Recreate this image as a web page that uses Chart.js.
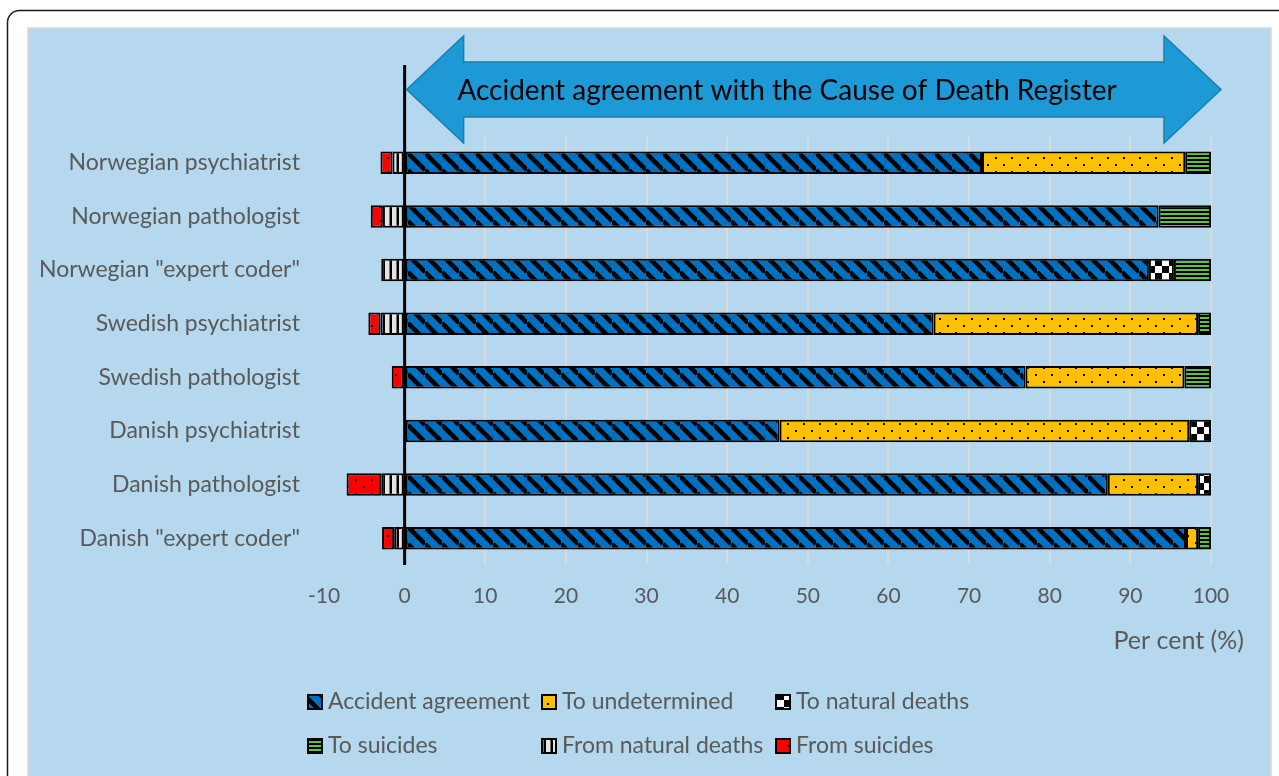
<!DOCTYPE html>
<html>
<head>
<meta charset="utf-8">
<script src="https://cdn.jsdelivr.net/npm/chart.js@4.4.0/dist/chart.umd.min.js"></script>
<style>
  html, body { margin: 0; padding: 0; background: #ffffff; }
  #wrap { width: 1279px; height: 776px; }
</style>
</head>
<body>
<div id="wrap"><canvas id="chart" width="1279" height="776"></canvas></div>
<script>
// categories (top to bottom)
var categories = [
    "Norwegian psychiatrist",
    "Norwegian pathologist",
    'Norwegian "expert coder"',
    "Swedish psychiatrist",
    "Swedish pathologist",
    "Danish psychiatrist",
    "Danish pathologist",
    'Danish "expert coder"'
];

// per cent
var accidentAgreement = [71.6, 93.5, 92.3, 65.6, 77.0, 46.5, 87.2, 96.9];
var toUndetermined    = [25.2, 0, 0, 32.8, 19.7, 50.8, 11.2, 1.5];
var toNaturalDeaths   = [0, 0, 3.1, 0, 0, 2.7, 1.6, 0];
var toSuicides        = [3.2, 6.5, 4.6, 1.6, 3.3, 0, 0, 1.6];
var fromNaturalDeaths = [-1.5, -2.7, -2.9, -3.0, 0, 0, -2.9, -1.3];
var fromSuicides      = [-1.5, -1.5, 0, -1.5, -1.6, 0, -4.3, -1.5];

var seriesNames = [
    "Accident agreement",
    "To undetermined",
    "To natural deaths",
    "To suicides",
    "From natural deaths",
    "From suicides"
];

var xMin = -10, xMax = 100, xStep = 10;
var arrowText = "Accident agreement with the Cause of Death Register";
var axisTitle = "Per cent (%)";

var FONT = "Lato, 'Open Sans', sans-serif";
var GREY = "#595959";

// ---- fill patterns ----
function makePattern(w, h, draw) {
    var c = document.createElement("canvas");
    c.width = w;
    c.height = h;
    var g = c.getContext("2d");
    draw(g, w, h);
    return g.createPattern(c, "repeat");
}

var patDiagonal = makePattern(17, 17, function (g, w, h) {
    g.fillStyle = "#0070C0";
    g.fillRect(0, 0, w, h);
    g.strokeStyle = "#000000";
    g.lineWidth = 4.5;
    [-w, 0, w].forEach(function (c) {
        g.beginPath();
        g.moveTo(0, c);
        g.lineTo(w, c + h);
        g.stroke();
    });
});

function dots(color) {
    return makePattern(16, 14, function (g, w, h) {
        g.fillStyle = color;
        g.fillRect(0, 0, w, h);
        g.fillStyle = "#000000";
        g.fillRect(3, 3, 2, 2);
        g.fillRect(11, 10, 2, 2);
    });
}

var patYellow = dots("#FFC000");
var patRed = dots("#FF0000");

var patChecker = makePattern(14, 14, function (g, w, h) {
    g.fillStyle = "#ffffff";
    g.fillRect(0, 0, w, h);
    g.fillStyle = "#000000";
    g.fillRect(0, 0, 7, 7);
    g.fillRect(7, 7, 7, 7);
});

var patGreen = makePattern(4, 4, function (g, w, h) {
    g.fillStyle = "#000000";
    g.fillRect(0, 0, w, h);
    g.fillStyle = "#62C23F";
    g.fillRect(0, 1, w, 2);
});

var patVertical = makePattern(7, 4, function (g, w, h) {
    g.fillStyle = "#000000";
    g.fillRect(0, 0, w, h);
    g.fillStyle = "#E4E4E4";
    g.fillRect(0, 0, 4.5, h);
});

var patterns = [patDiagonal, patYellow, patChecker, patGreen, patVertical, patRed];
var seriesData = [accidentAgreement, toUndetermined, toNaturalDeaths, toSuicides, fromNaturalDeaths, fromSuicides];

var datasets = seriesNames.map(function (name, i) {
    return {
        label: name,
        data: seriesData[i],
        backgroundColor: patterns[i],
        borderColor: "#000000",
        borderWidth: 2,
        borderSkipped: false,
        categoryPercentage: 1,
        barPercentage: 0.42
    };
});

// ---- decorations: panel, arrow, zero line, axis title, legend ----
var decorations = {
    id: "decorations",
    beforeDraw: function (chart) {
        var ctx = chart.ctx;
        ctx.save();
        ctx.fillStyle = "#ffffff";
        ctx.fillRect(0, 0, chart.width, chart.height);
        // outer rounded frame
        ctx.strokeStyle = "#1a1a1a";
        ctx.lineWidth = 1.5;
        ctx.beginPath();
        ctx.roundRect(7.5, 10.5, 1400, 900, 12);
        ctx.stroke();
        // blue panel
        ctx.fillStyle = "#B5D8EE";
        ctx.fillRect(28, 28, 1243, 800);
        ctx.strokeStyle = "#D9D9D9";
        ctx.lineWidth = 1.5;
        ctx.strokeRect(28, 28, 1243, 800);
        ctx.restore();
    },
    afterDatasetsDraw: function (chart) {
        var ctx = chart.ctx;
        var xs = chart.scales.x;
        var area = chart.chartArea;
        var x0 = xs.getPixelForValue(0);
        var x100 = xs.getPixelForValue(100);
        ctx.save();

        // zero line
        ctx.strokeStyle = "#000000";
        ctx.lineWidth = 3;
        ctx.beginPath();
        ctx.moveTo(x0, 65);
        ctx.lineTo(x0, area.bottom);
        ctx.stroke();

        // double arrow
        var tipL = x0 + 2, tipR = x100 + 10, head = 57;
        var yc = 89.5, hTop = 36, hBot = 143, sTop = 62, sBot = 117;
        ctx.beginPath();
        ctx.moveTo(tipL, yc);
        ctx.lineTo(tipL + head, hTop);
        ctx.lineTo(tipL + head, sTop);
        ctx.lineTo(tipR - head, sTop);
        ctx.lineTo(tipR - head, hTop);
        ctx.lineTo(tipR, yc);
        ctx.lineTo(tipR - head, hBot);
        ctx.lineTo(tipR - head, sBot);
        ctx.lineTo(tipL + head, sBot);
        ctx.lineTo(tipL + head, hBot);
        ctx.closePath();
        ctx.fillStyle = "#1D9AD6";
        ctx.fill();
        ctx.strokeStyle = "#1B7DB2";
        ctx.lineWidth = 1.5;
        ctx.stroke();

        ctx.fillStyle = "#000000";
        ctx.font = "28px " + FONT;
        ctx.textAlign = "center";
        ctx.textBaseline = "middle";
        ctx.fillText(arrowText, 787, 91);

        // axis title
        ctx.fillStyle = GREY;
        ctx.font = "25px " + FONT;
        ctx.textAlign = "right";
        ctx.fillText(axisTitle, 1244, 641);

        // legend
        var cols = [328, 562, 796];
        var rows = [702, 746];
        ctx.font = "23px " + FONT;
        ctx.textAlign = "left";
        chart.data.datasets.forEach(function (ds, i) {
            var x = cols[i % 3];
            var y = rows[Math.floor(i / 3)];
            ctx.fillStyle = ds.backgroundColor;
            ctx.fillRect(x - 20, y - 7, 14, 14);
            ctx.strokeStyle = "#000000";
            ctx.lineWidth = 2;
            ctx.strokeRect(x - 20, y - 7, 14, 14);
            ctx.fillStyle = GREY;
            ctx.fillText(ds.label, x, y);
        });
        ctx.restore();
    }
};

new Chart(document.getElementById("chart"), {
    type: "bar",
    data: { labels: categories, datasets: datasets },
    options: {
        indexAxis: "y",
        responsive: false,
        devicePixelRatio: 1,
        animation: false,
        layout: { padding: { left: 0, top: 136, right: 68, bottom: 151 } },
        plugins: {
            legend: { display: false },
            tooltip: { enabled: false }
        },
        scales: {
            x: {
                stacked: true,
                min: xMin,
                max: xMax,
                border: { display: false },
                grid: {
                    drawTicks: false,
                    lineWidth: 2,
                    color: function (c) {
                        if (!c.tick || c.tick.value <= 0) return "rgba(0,0,0,0)";
                        return "#D9D9D9";
                    }
                },
                ticks: {
                    stepSize: xStep,
                    padding: 19,
                    color: GREY,
                    font: { family: FONT, size: 21 }
                },
                afterFit: function (scale) { scale.height = 60; }
            },
            y: {
                stacked: true,
                border: { display: false },
                grid: { display: false, drawTicks: false },
                ticks: {
                    padding: 24,
                    color: GREY,
                    font: { family: FONT, size: 23 }
                },
                afterFit: function (scale) { scale.width = 324; }
            }
        }
    },
    plugins: [decorations]
});
</script>
</body>
</html>
